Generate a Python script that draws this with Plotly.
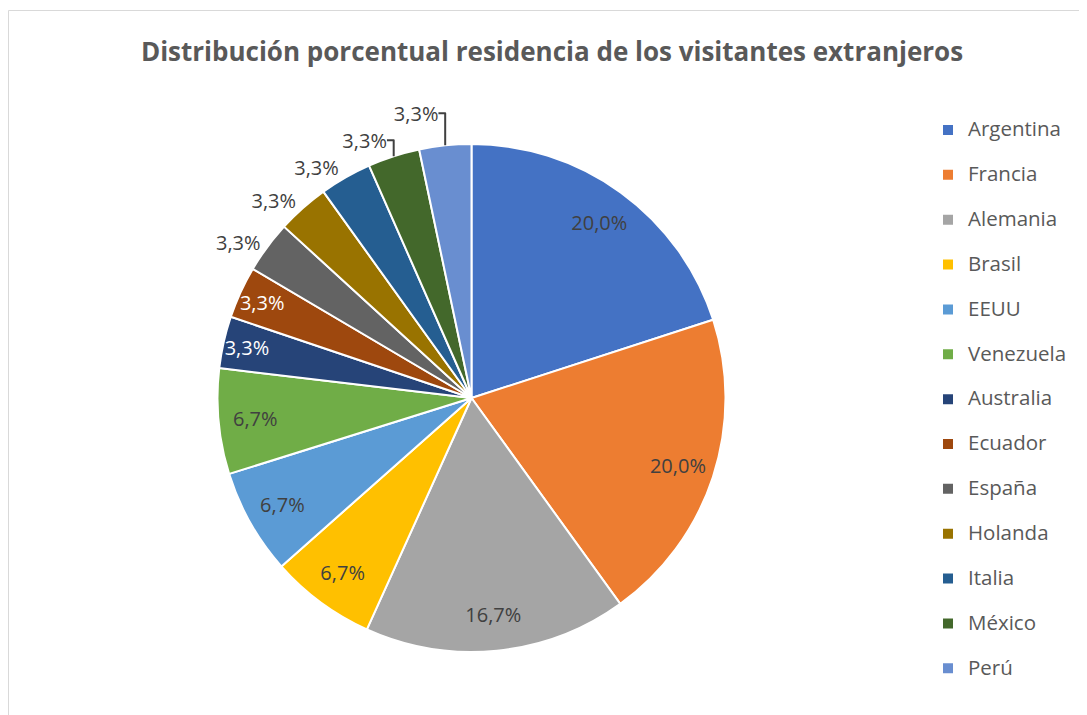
import plotly.graph_objects as go

countries = ["Argentina", "Francia", "Alemania", "Brasil", "EEUU", "Venezuela",
             "Australia", "Ecuador", "España", "Holanda", "Italia", "México", "Perú"]
percentages = [20.0, 20.0, 16.7, 6.7, 6.7, 6.7, 3.3, 3.3, 3.3, 3.3, 3.3, 3.3, 3.3]
colors = ["#4472C4", "#ED7D31", "#A5A5A5", "#FFC000", "#5B9BD5", "#70AD47",
          "#264478", "#9E480E", "#636363", "#997300", "#255E91", "#43682B", "#698ED0"]
n_inside = 8  # first slices labelled inside, the rest outside
text_colors = ["#404040"] * 6 + ["#FFFFFF", "#FFFFFF"] + ["#404040"] * 5

# page is drawn with the browser's 8px body margin
OFF = 8
W, H = 1087 - OFF, 715 - OFF
cx, cy, R = 471.5 - OFF, 398 - OFF, 254

dom = dict(x=[(cx - R) / W, (cx + R) / W], y=[1 - (cy + R) / H, 1 - (cy - R) / H])
legend_labels = [f"<span style='font-size:20.5px'>{c}</span><br> " for c in countries]

# slices + outside labels
fig = go.Figure(go.Pie(
    labels=legend_labels,
    values=percentages,
    sort=False,
    direction="clockwise",
    rotation=0,
    marker=dict(colors=colors, line=dict(color="white", width=2)),
    texttemplate="%{value:.1f}%",
    textposition=["none"] * n_inside + ["outside"] * (len(countries) - n_inside),
    outsidetextfont=dict(family="Open Sans", size=20, color="#404040"),
    hoverinfo="skip",
    domain=dom,
))

# transparent ring carrying the inside labels near the rim
fig.add_trace(go.Pie(
    labels=legend_labels,
    values=percentages,
    sort=False,
    direction="clockwise",
    rotation=0,
    hole=0.71,
    marker=dict(colors=["rgba(0,0,0,0)"] * len(countries), line=dict(width=0)),
    texttemplate="%{value:.1f}%",
    textposition=["inside"] * n_inside + ["none"] * (len(countries) - n_inside),
    insidetextorientation="horizontal",
    insidetextfont=dict(family="Open Sans", size=20, color=text_colors),
    hoverinfo="skip",
    showlegend=False,
    domain=dom,
))

fig.update_layout(
    width=W, height=H,
    margin=dict(l=0, r=0, t=0, b=0),
    paper_bgcolor="white",
    separators=",.",
    uniformtext=dict(minsize=20, mode="show"),
    title=dict(text="<b>Distribución porcentual residencia de los visitantes extranjeros</b>",
               x=(552 - OFF) / W, xanchor="center", y=1 - (52 - OFF) / H, yanchor="middle",
               font=dict(family="Open Sans", size=26, color="#595959")),
    legend=dict(x=(928 - OFF) / W, xanchor="left", y=1 - (113 - OFF) / H, yanchor="top",
                font=dict(family="Open Sans", size=16.1, color="#595959"),
                valign="top", bgcolor="rgba(0,0,0,0)"),
    shapes=[
        dict(type="line", xref="paper", yref="paper", x0=0.5 / W, x1=1.0,
             y0=1 - (10.5 - OFF) / H, y1=1 - (10.5 - OFF) / H,
             line=dict(color="#D9D9D9", width=1)),
        dict(type="line", xref="paper", yref="paper", x0=0.5 / W, x1=0.5 / W,
             y0=0, y1=1 - (10.5 - OFF) / H,
             line=dict(color="#D9D9D9", width=1)),
    ],
)

fig.write_html("out.html")
